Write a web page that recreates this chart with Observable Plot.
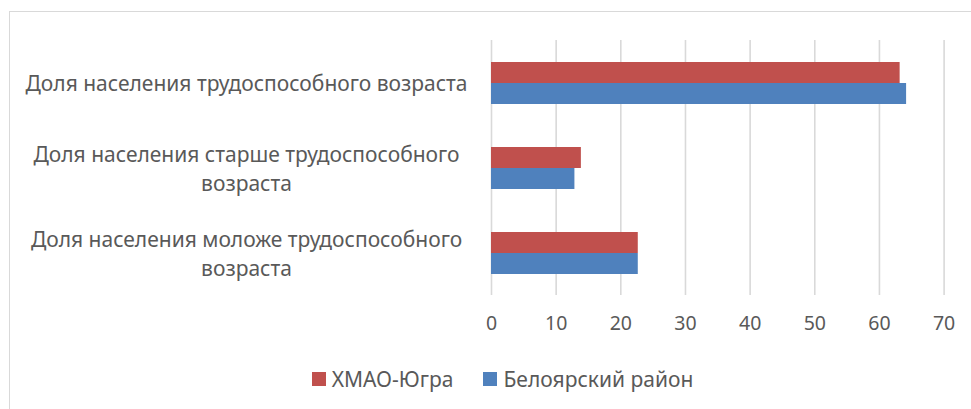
<!DOCTYPE html>
<html>
<head>
<meta charset="utf-8">
<script src="https://cdn.jsdelivr.net/npm/d3@7"></script>
<script src="https://cdn.jsdelivr.net/npm/@observablehq/plot@0.6"></script>
<style>
  html, body { margin: 0; padding: 0; background: #fff; overflow: hidden; }
  #wrap { position: relative; width: 971px; height: 409px; font-family: "Noto Sans", sans-serif; }
  #frame { position: absolute; left: 9px; top: 11px; width: 1000px; height: 500px; border: 1px solid #d9d9d9; box-sizing: border-box; }
  #legend { position: absolute; top: 365px; left: 17px; width: 971px; display: flex; justify-content: center; color: #595959; font-size: 21px; line-height: 28px; }
  .item { display: flex; align-items: center; margin: 0 15px; }
  .sw { width: 14px; height: 14px; margin-right: 6px; }
  svg { position: absolute; left: 0; top: 0; }
</style>
</head>
<body>
<div id="wrap"><div id="frame"></div><div id="chart"></div><div id="legend"></div></div>
<script>
const categories = [
  "Доля населения трудоспособного возраста",
  "Доля населения старше трудоспособного\nвозраста",
  "Доля населения моложе трудоспособного\nвозраста"
];
const series = ["ХМАО-Югра", "Белоярский район"];
const colors = ["#C0504D", "#4F81BD"];
const hmaoValues = [63.2, 13.9, 22.7];
const beloyarskValues = [64.2, 12.9, 22.7];
const xTicks = [0, 10, 20, 30, 40, 50, 60, 70];

const data = [];
categories.forEach((c, i) => {
  data.push({category: c, series: series[0], value: hmaoValues[i]});
  data.push({category: c, series: series[1], value: beloyarskValues[i]});
});

const chart = Plot.plot({
  width: 971,
  height: 409,
  marginTop: 40,
  marginBottom: 114,
  marginLeft: 491,
  marginRight: 27.4,
  style: {fontFamily: "Noto Sans, sans-serif", color: "#595959", background: "transparent"},
  x: {domain: [0, 70], label: null},
  fy: {domain: categories, padding: 0, label: null},
  y: {domain: series, paddingInner: 0, paddingOuter: 0.932, label: null, axis: null},
  color: {domain: series, range: colors},
  marks: [
    Plot.gridX(xTicks, {stroke: "#d9d9d9", strokeOpacity: 1, strokeWidth: 1.6}),
    Plot.barX(data, {x: "value", y: "series", fy: "category", fill: "series"}),
    Plot.axisX(xTicks, {tickSize: 0, tickPadding: 21, fontSize: 19.5, fill: "#595959", tickFormat: d => String(d), label: null}),
    Plot.axisFy({anchor: "left", tickSize: 0, tickPadding: 0, dx: -245, dy: -1, textAnchor: "middle", fontSize: 21, lineHeight: 1.38, fill: "#595959", label: null})
  ]
});
document.getElementById("chart").appendChild(chart);

const legend = document.getElementById("legend");
series.forEach((s, i) => {
  const it = document.createElement("div");
  it.className = "item";
  it.innerHTML = `<span class="sw" style="background:${colors[i]}"></span><span>${s}</span>`;
  legend.appendChild(it);
});
</script>
</body>
</html>
